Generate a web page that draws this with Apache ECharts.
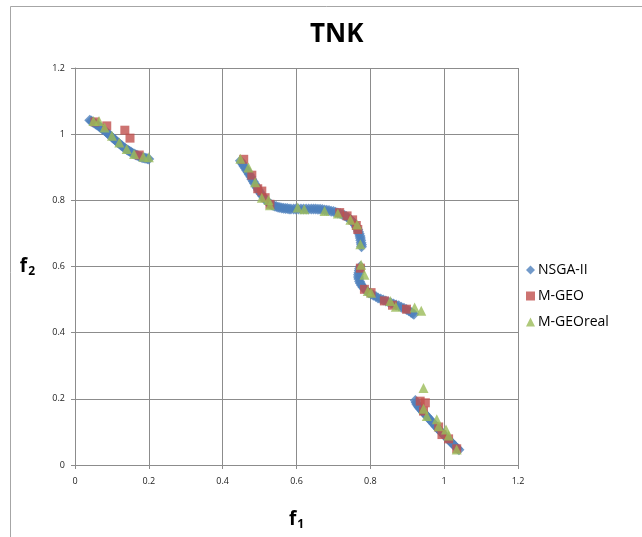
<!DOCTYPE html>
<html>
<head>
<meta charset="utf-8">
<script src="https://cdn.jsdelivr.net/npm/echarts@6/dist/echarts.min.js"></script>
<style>
  html, body { margin: 0; padding: 0; background: #fff; }
  #main { width: 642px; height: 537px; }
</style>
</head>
<body>
<div id="main"></div>
<script>
// NSGA-II  [f1, f2]
var nsga2Points = [
  [0.040,1.042],[0.044,1.040],[0.048,1.037],[0.052,1.034],[0.056,1.031],[0.060,1.028],[0.064,1.025],
  [0.068,1.021],[0.072,1.018],[0.076,1.014],[0.080,1.011],[0.084,1.007],[0.088,1.003],[0.092,0.999],
  [0.096,0.995],[0.100,0.991],[0.104,0.987],[0.108,0.983],[0.112,0.979],[0.116,0.975],[0.120,0.971],
  [0.124,0.967],[0.128,0.964],[0.132,0.960],[0.136,0.957],[0.140,0.954],[0.144,0.951],[0.148,0.948],
  [0.152,0.945],[0.156,0.942],[0.160,0.940],[0.164,0.938],[0.168,0.936],[0.172,0.934],[0.176,0.932],
  [0.180,0.930],[0.184,0.929],[0.188,0.928],[0.192,0.927],[0.196,0.926],[0.200,0.925],
  [0.448,0.920],[0.451,0.914],[0.455,0.908],[0.458,0.902],[0.462,0.896],[0.465,0.890],[0.469,0.884],
  [0.472,0.878],[0.476,0.871],[0.479,0.864],[0.483,0.857],[0.486,0.851],[0.490,0.844],[0.493,0.838],
  [0.497,0.831],[0.500,0.825],[0.504,0.819],[0.508,0.813],[0.512,0.807],[0.516,0.802],[0.520,0.797],
  [0.524,0.793],[0.528,0.790],[0.532,0.787],[0.536,0.785],[0.540,0.783],[0.545,0.781],[0.550,0.779],
  [0.555,0.778],[0.560,0.777],[0.565,0.776],[0.570,0.775],[0.575,0.775],[0.580,0.774],[0.585,0.774],
  [0.592,0.774],[0.598,0.774],[0.605,0.774],[0.612,0.774],[0.619,0.774],[0.626,0.774],[0.633,0.774],
  [0.640,0.774],[0.646,0.774],[0.652,0.774],[0.658,0.773],[0.664,0.773],[0.670,0.772],[0.676,0.771],
  [0.682,0.770],[0.688,0.769],[0.694,0.767],[0.700,0.766],[0.706,0.764],[0.712,0.762],[0.718,0.760],
  [0.724,0.757],[0.730,0.754],[0.735,0.751],[0.740,0.747],[0.745,0.743],[0.749,0.739],[0.753,0.734],
  [0.757,0.729],[0.760,0.724],[0.763,0.718],[0.766,0.712],[0.768,0.705],[0.770,0.699],[0.772,0.692],
  [0.773,0.686],[0.774,0.679],[0.775,0.672],[0.776,0.666],[0.776,0.660],
  [0.773,0.600],[0.771,0.594],[0.770,0.588],[0.769,0.581],[0.768,0.575],[0.768,0.568],[0.769,0.562],
  [0.771,0.555],[0.773,0.549],[0.776,0.543],[0.780,0.537],[0.785,0.531],[0.790,0.526],[0.796,0.521],
  [0.802,0.517],[0.808,0.513],[0.815,0.509],[0.821,0.505],[0.828,0.502],[0.835,0.499],[0.842,0.496],
  [0.849,0.493],[0.856,0.490],[0.863,0.487],[0.870,0.484],[0.877,0.481],[0.884,0.477],[0.891,0.474],
  [0.898,0.470],[0.904,0.466],[0.910,0.462],[0.914,0.459],[0.918,0.456],
  [0.922,0.195],[0.924,0.189],[0.926,0.184],[0.929,0.179],[0.932,0.174],[0.936,0.169],[0.940,0.164],
  [0.944,0.159],[0.948,0.154],[0.952,0.149],[0.956,0.144],[0.960,0.139],[0.964,0.134],[0.968,0.129],
  [0.972,0.124],[0.976,0.119],[0.980,0.114],[0.984,0.109],[0.988,0.104],[0.992,0.099],[0.996,0.095],
  [1.000,0.090],[1.004,0.086],[1.008,0.081],[1.012,0.077],[1.016,0.072],[1.020,0.068],[1.024,0.063],
  [1.028,0.059],[1.032,0.054],[1.036,0.050],[1.040,0.046]
];
// M-GEO
var mgeoPoints = [
  [0.054,1.037],[0.086,1.025],[0.135,1.012],[0.149,0.988],[0.174,0.937],
  [0.457,0.924],[0.479,0.876],[0.495,0.835],[0.506,0.828],[0.515,0.808],[0.528,0.788],
  [0.717,0.763],[0.737,0.753],[0.752,0.741],[0.762,0.724],[0.766,0.712],
  [0.773,0.595],[0.784,0.531],[0.802,0.521],[0.838,0.496],[0.860,0.483],[0.898,0.471],
  [0.935,0.193],[0.949,0.188],[0.944,0.163],[0.985,0.115],[0.994,0.092],[1.012,0.079],[1.034,0.049]
];
// M-GEOreal
var mgeoRealPoints = [
  [0.050,1.040],[0.065,1.040],[0.080,1.020],[0.100,0.995],[0.120,0.975],[0.140,0.955],[0.160,0.940],
  [0.185,0.932],[0.200,0.930],
  [0.448,0.926],[0.470,0.899],[0.488,0.855],[0.506,0.808],[0.524,0.801],[0.528,0.785],[0.603,0.778],
  [0.621,0.773],[0.676,0.768],[0.712,0.760],[0.746,0.741],[0.764,0.727],[0.773,0.667],
  [0.775,0.605],[0.784,0.575],[0.793,0.526],[0.802,0.521],[0.854,0.496],[0.869,0.478],[0.920,0.476],
  [0.938,0.466],
  [0.944,0.233],[0.944,0.170],[0.953,0.148],[0.980,0.138],[0.985,0.117],[1.005,0.107],[1.012,0.089],
  [1.034,0.047]
];
var seriesNames = ['NSGA-II', 'M-GEO', 'M-GEOreal'];

var myChart = echarts.init(document.getElementById('main'));
var font = '"Open Sans", "Liberation Sans", sans-serif';
var axisGray = '#8c8c8c';

var option = {
  animation: false,
  color: ['#4F81BD', '#C0504D', '#9BBB59'],
  textStyle: { fontFamily: font },
  title: {
    text: 'TNK',
    left: 305,
    top: 17,
    textStyle: { fontSize: 26, fontWeight: 'bold', color: '#000', fontFamily: font }
  },
  graphic: [{
    type: 'rect',
    silent: true,
    shape: { x: 10.5, y: 6.5, width: 700, height: 600 },
    style: { fill: 'none', stroke: '#a6a6a6', lineWidth: 1 }
  }],
  legend: {
    orient: 'vertical',
    left: 521,
    top: 258,
    itemGap: 12,
    itemWidth: 9,
    itemHeight: 9,
    data: seriesNames,
    textStyle: { fontSize: 14, color: '#000', fontFamily: font, padding: [0, 0, 0, -2] }
  },
  grid: { left: 75, right: 124, top: 68, bottom: 72 },
  xAxis: {
    type: 'value',
    min: 0, max: 1.2, interval: 0.2,
    name: '{a|f}{b|1}',
    nameLocation: 'middle',
    nameGap: 44,
    nameTextStyle: {
      rich: {
        a: { fontSize: 19, fontWeight: 'bold', color: '#000', fontFamily: font },
        b: { fontSize: 12, fontWeight: 'bold', color: '#000', fontFamily: font, verticalAlign: 'bottom', padding: [10, 0, 0, 1] }
      }
    },
    axisLine: { lineStyle: { color: axisGray } },
    axisTick: { show: true, length: 4, lineStyle: { color: axisGray } },
    axisLabel: { fontSize: 9, color: '#222', margin: 12 },
    splitLine: { show: true, lineStyle: { color: axisGray } }
  },
  yAxis: {
    type: 'value',
    min: 0, max: 1.2, interval: 0.2,
    name: '{a|f}{b|2}',
    nameLocation: 'middle',
    nameGap: 40,
    nameRotate: 0,
    nameTextStyle: {
      rich: {
        a: { fontSize: 19, fontWeight: 'bold', color: '#000', fontFamily: font },
        b: { fontSize: 12, fontWeight: 'bold', color: '#000', fontFamily: font, verticalAlign: 'bottom', padding: [10, 0, 0, 1] }
      }
    },
    axisLine: { show: true, lineStyle: { color: axisGray } },
    axisTick: { show: true, length: 4, lineStyle: { color: axisGray } },
    axisLabel: { fontSize: 9, color: '#222', margin: 10 },
    splitLine: { show: true, lineStyle: { color: axisGray } }
  },
  series: [
    { name: seriesNames[0], type: 'scatter', symbol: 'diamond', symbolSize: 11, data: nsga2Points },
    { name: seriesNames[1], type: 'scatter', symbol: 'rect', symbolSize: 9, data: mgeoPoints },
    { name: seriesNames[2], type: 'scatter', symbol: 'triangle', symbolSize: 10, data: mgeoRealPoints }
  ]
};

myChart.setOption(option);
</script>
</body>
</html>
